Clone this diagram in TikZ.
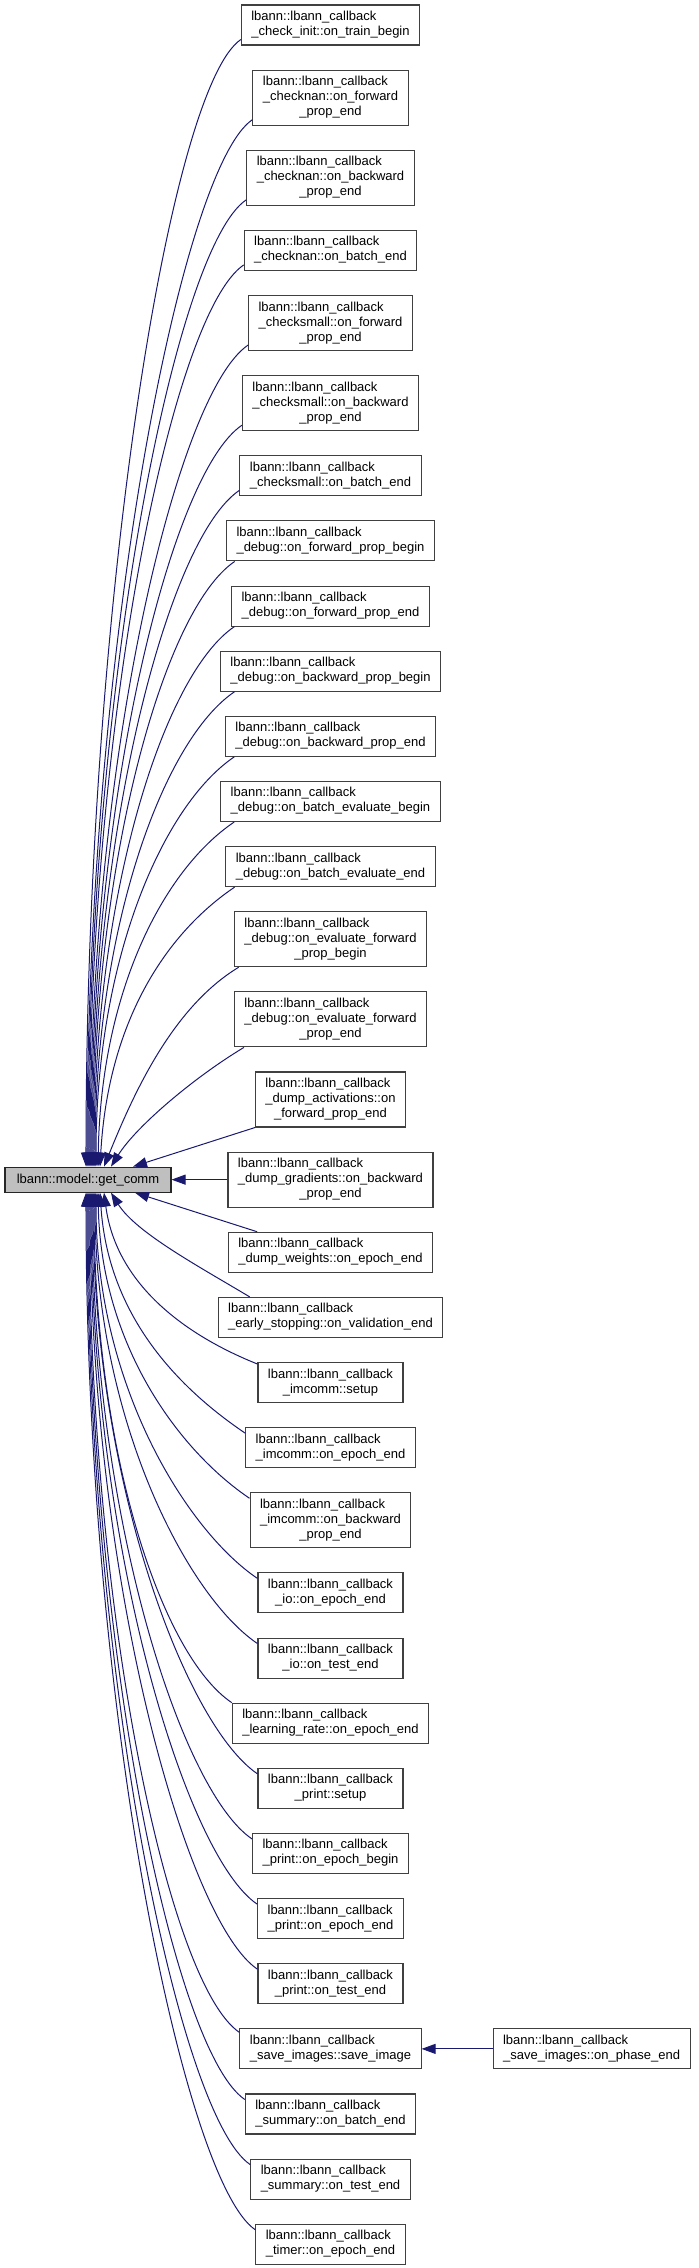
\documentclass[tikz,border=0pt]{standalone}
\usepackage{fontspec}
\setmainfont{Liberation Sans}
\usetikzlibrary{arrows.meta, positioning}

\definecolor{edgeblue}{HTML}{191970}
\definecolor{boxline}{HTML}{404040}
\definecolor{boxgray}{HTML}{BFBFBF}

% libelles : premieres lignes a gauche, derniere centree
\newcommand{\cbtwo}[1]{\begin{tabular}{@{}c@{}}\multicolumn{1}{@{}l@{}}{lbann::lbann\_callback}\\#1\end{tabular}}
\newcommand{\cbthree}[2]{\begin{tabular}{@{}c@{}}\multicolumn{1}{@{}l@{}}{lbann::lbann\_callback}\\\multicolumn{1}{@{}l@{}}{#1}\\#2\end{tabular}}

\tikzset{
  func/.style={
    draw=boxline,
    rectangle,
    fill=white,
    line width=0.8pt,
    inner xsep=7.5pt,
    inner ysep=3.75pt,
    font=\fontsize{9.75}{11.25}\selectfont,
  },
  curfunc/.style={
    func,
    draw=black!85,
    fill=boxgray,
    minimum width=124.5pt,
    minimum height=18.75pt
  },
  call/.style={
    draw=edgeblue,
    line width=0.75pt,
    -{Triangle[length=10.5pt,width=7.5pt]}
  }
}

\begin{document}
\begin{tikzpicture}[x=0.75pt, y=0.75pt, node distance=18.05pt]
  \useasboundingbox (0,0) rectangle (699,-2268);

  % Fonctions appelantes
  \node[func] (cinit) at (330.5,-25) {\cbtwo{\_check\_init::on\_train\_begin}};
  \node[func, below=of cinit] (cnfwd) {\cbthree{\_checknan::on\_forward}{\_prop\_end}};
  \node[func, below=of cnfwd] (cnbwd) {\cbthree{\_checknan::on\_backward}{\_prop\_end}};
  \node[func, below=of cnbwd] (cnbatch) {\cbtwo{\_checknan::on\_batch\_end}};
  \node[func, below=of cnbatch] (csfwd) {\cbthree{\_checksmall::on\_forward}{\_prop\_end}};
  \node[func, below=of csfwd] (csbwd) {\cbthree{\_checksmall::on\_backward}{\_prop\_end}};
  \node[func, below=of csbwd] (csbatch) {\cbtwo{\_checksmall::on\_batch\_end}};
  \node[func, below=of csbatch] (dbfpb) {\cbtwo{\_debug::on\_forward\_prop\_begin}};
  \node[func, below=of dbfpb] (dbfpe) {\cbtwo{\_debug::on\_forward\_prop\_end}};
  \node[func, below=of dbfpe] (dbbpb) {\cbtwo{\_debug::on\_backward\_prop\_begin}};
  \node[func, below=of dbbpb] (dbbpe) {\cbtwo{\_debug::on\_backward\_prop\_end}};
  \node[func, below=of dbbpe] (dbbeb) {\cbtwo{\_debug::on\_batch\_evaluate\_begin}};
  \node[func, below=of dbbeb] (dbbee) {\cbtwo{\_debug::on\_batch\_evaluate\_end}};
  \node[func, below=of dbbee] (dbefb) {\cbthree{\_debug::on\_evaluate\_forward}{\_prop\_begin}};
  \node[func, below=of dbefb] (dbefe) {\cbthree{\_debug::on\_evaluate\_forward}{\_prop\_end}};
  \node[func, below=of dbefe] (dact) {\cbthree{\_dump\_activations::on}{\_forward\_prop\_end}};
  \node[func, below=of dact] (dgrad) {\cbthree{\_dump\_gradients::on\_backward}{\_prop\_end}};
  \node[func, below=of dgrad] (dwts) {\cbtwo{\_dump\_weights::on\_epoch\_end}};
  \node[func, below=of dwts] (estop) {\cbtwo{\_early\_stopping::on\_validation\_end}};
  \node[func, below=of estop] (imsetup) {\cbtwo{\_imcomm::setup}};
  \node[func, below=of imsetup] (imepoch) {\cbtwo{\_imcomm::on\_epoch\_end}};
  \node[func, below=of imepoch] (imbwd) {\cbthree{\_imcomm::on\_backward}{\_prop\_end}};
  \node[func, below=of imbwd] (ioepoch) {\cbtwo{\_io::on\_epoch\_end}};
  \node[func, below=of ioepoch] (iotest) {\cbtwo{\_io::on\_test\_end}};
  \node[func, below=of iotest] (lrate) {\cbtwo{\_learning\_rate::on\_epoch\_end}};
  \node[func, below=of lrate] (prsetup) {\cbtwo{\_print::setup}};
  \node[func, below=of prsetup] (prepb) {\cbtwo{\_print::on\_epoch\_begin}};
  \node[func, below=of prepb] (prepe) {\cbtwo{\_print::on\_epoch\_end}};
  \node[func, below=of prepe] (prtest) {\cbtwo{\_print::on\_test\_end}};
  \node[func, below=of prtest] (saveimg) {\cbtwo{\_save\_images::save\_image}};
  \node[func, below=of saveimg] (sumbatch) {\cbtwo{\_summary::on\_batch\_end}};
  \node[func, below=of sumbatch] (sumtest) {\cbtwo{\_summary::on\_test\_end}};
  \node[func, below=of sumtest] (timer) {\cbtwo{\_timer::on\_epoch\_end}};

  % Fonction appelee et appelant indirect
  \node[curfunc, left=41.95pt of dgrad] (getcomm) {lbann::model::get\_comm};
  \node[func, right=53.2pt of saveimg] (phaseend) {\cbtwo{\_save\_images::on\_phase\_end}};

  % Appels depuis le haut
  \draw[call] ([yshift=4.5pt]cinit.south west) .. controls +(-71,-48) and +(0,562) .. ([xshift=-1.5pt]getcomm.north);
  \draw[call] ([yshift=4.5pt]cnfwd.south west) .. controls +(-71,-48) and +(0,522) .. ([xshift=-0.75pt]getcomm.north);
  \draw[call] ([yshift=4.5pt]cnbwd.south west) .. controls +(-71,-48) and +(0,482) .. (getcomm.north);
  \draw[call] ([yshift=4.5pt]cnbatch.south west) .. controls +(-71,-48) and +(0,450) .. ([xshift=0.75pt]getcomm.north);
  \draw[call] ([yshift=4.5pt]csfwd.south west) .. controls +(-71,-48) and +(0,410) .. ([xshift=1.5pt]getcomm.north);
  \draw[call] ([yshift=4.5pt]csbwd.south west) .. controls +(-71,-48) and +(0,370) .. ([xshift=2.25pt]getcomm.north);
  \draw[call] ([yshift=4.5pt]csbatch.south west) .. controls +(-71,-48) and +(0,338) .. ([xshift=3pt]getcomm.north);
  \draw[call] ([xshift=6.5pt]dbfpb.south west) .. controls +(-71,-48) and +(0,305) .. ([xshift=3.75pt]getcomm.north);
  \draw[call] ([xshift=2.5pt]dbfpe.south west) .. controls +(-71,-48) and +(0,272) .. ([xshift=4.5pt]getcomm.north);
  \draw[call] ([xshift=11pt]dbbpb.south west) .. controls +(-71,-48) and +(0,240) .. ([xshift=5.25pt]getcomm.north);
  \draw[call] ([xshift=7pt]dbbpe.south west) .. controls +(-71,-48) and +(0,208) .. ([xshift=6pt]getcomm.north);
  \draw[call] ([xshift=10.5pt]dbbeb.south west) .. controls +(-71,-48) and +(3,175) .. ([xshift=7.5pt]getcomm.north);
  \draw[call] ([xshift=7pt]dbbee.south west) .. controls +(-71,-48) and +(8,142) .. ([xshift=9pt]getcomm.north);
  \draw[call] ([xshift=3.5pt]dbefb.south west) .. controls +(-66,-40) and +(30,74) .. ([xshift=12pt]getcomm.north);
  \draw[call] ([xshift=7.5pt]dbefe.south west) .. controls +(-50,-30) and +(25,40) .. ([xshift=17.25pt]getcomm.north);
  \draw[call] (dact.south west) -- ([xshift=33.75pt]getcomm.north);

  % Appel de cote
  \draw[call] (dgrad.west) -- (getcomm.east);

  % Appels depuis le bas
  \draw[call] ([xshift=22pt]dwts.north west) -- ([xshift=35.25pt]getcomm.south);
  \draw[call] ([xshift=24pt]estop.north west) .. controls +(-50,30) and +(25,-40) .. ([xshift=17.25pt]getcomm.south);
  \draw[call] ([yshift=-1.5pt]imsetup.north west) .. controls +(-75,30) and +(12,-90) .. ([xshift=12pt]getcomm.south);
  \draw[call] ([yshift=-4.5pt]imepoch.north west) .. controls +(-71,48) and +(8,-120) .. ([xshift=9pt]getcomm.south);
  \draw[call] ([yshift=-4.5pt]imbwd.north west) .. controls +(-71,48) and +(3,-152) .. ([xshift=7.5pt]getcomm.south);
  \draw[call] ([yshift=-4.5pt]ioepoch.north west) .. controls +(-71,48) and +(0,-192) .. ([xshift=6pt]getcomm.south);
  \draw[call] ([yshift=-4.5pt]iotest.north west) .. controls +(-71,48) and +(0,-225) .. ([xshift=5.25pt]getcomm.south);
  \draw[call] (lrate.north west) .. controls +(-71,48) and +(0,-258) .. ([xshift=4.5pt]getcomm.south);
  \draw[call] ([yshift=-4.5pt]prsetup.north west) .. controls +(-71,48) and +(0,-290) .. ([xshift=3.75pt]getcomm.south);
  \draw[call] ([yshift=-4.5pt]prepb.north west) .. controls +(-71,48) and +(0,-322) .. ([xshift=3pt]getcomm.south);
  \draw[call] ([yshift=-4.5pt]prepe.north west) .. controls +(-71,48) and +(0,-355) .. ([xshift=2.25pt]getcomm.south);
  \draw[call] ([yshift=-4.5pt]prtest.north west) .. controls +(-71,48) and +(0,-388) .. ([xshift=1.5pt]getcomm.south);
  \draw[call] ([yshift=-3pt]saveimg.north west) .. controls +(-71,48) and +(0,-420) .. ([xshift=0.75pt]getcomm.south);
  \draw[call] ([yshift=-4.5pt]sumbatch.north west) .. controls +(-71,48) and +(0,-452) .. (getcomm.south);
  \draw[call] ([yshift=-4.5pt]sumtest.north west) .. controls +(-71,48) and +(0,-485) .. ([xshift=-0.75pt]getcomm.south);
  \draw[call] ([yshift=-4.5pt]timer.north west) .. controls +(-71,48) and +(0,-518) .. ([xshift=-1.5pt]getcomm.south);

  % Appel indirect
  \draw[call] (phaseend.west) -- (saveimg.east);
\end{tikzpicture}
\end{document}
